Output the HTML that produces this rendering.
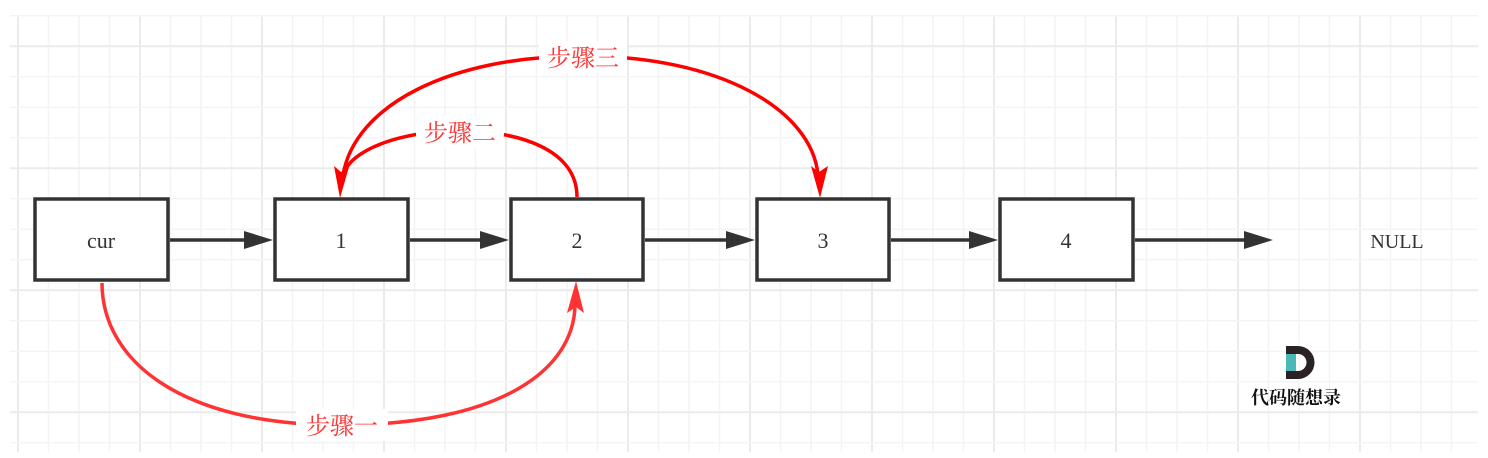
<!DOCTYPE html>
<html><head><meta charset="utf-8"><style>
html,body{margin:0;padding:0;background:#fff;width:1488px;height:458px;overflow:hidden}
svg{display:block}
</style></head><body>
<svg width="1488" height="458" viewBox="0 0 1488 458" xmlns="http://www.w3.org/2000/svg">
<g id="grid"></g>
<g font-family="Liberation Serif, serif" font-size="22" fill="#333" text-anchor="middle">
<rect x="35" y="199" width="133" height="81" fill="#fff" stroke="#333" stroke-width="3.5"/>
<text x="101" y="248">cur</text>
<rect x="275" y="199" width="133" height="81" fill="#fff" stroke="#333" stroke-width="3.5"/>
<text x="341" y="248">1</text>
<rect x="511" y="199" width="132" height="81" fill="#fff" stroke="#333" stroke-width="3.5"/>
<text x="577" y="248">2</text>
<rect x="757" y="199" width="132" height="81" fill="#fff" stroke="#333" stroke-width="3.5"/>
<text x="823" y="248">3</text>
<rect x="1000" y="199" width="133" height="81" fill="#fff" stroke="#333" stroke-width="3.5"/>
<text x="1066" y="248">4</text>
<text x="1397" y="248" font-size="20">NULL</text>
</g>
<g stroke="#333" stroke-width="3.5" fill="#333">
<line x1="170" y1="240" x2="250" y2="240"/>
<path d="M244,231 L273,240 L244,249 Z" stroke="none"/>
<line x1="410" y1="240" x2="486" y2="240"/>
<path d="M480,231 L509,240 L480,249 Z" stroke="none"/>
<line x1="645" y1="240" x2="732" y2="240"/>
<path d="M726,231 L755,240 L726,249 Z" stroke="none"/>
<line x1="891" y1="240" x2="975" y2="240"/>
<path d="M969,231 L998,240 L969,249 Z" stroke="none"/>
<line x1="1135" y1="240" x2="1250" y2="240"/>
<path d="M1244,231 L1273,240 L1244,249 Z" stroke="none"/>
</g>
<g fill="none" stroke-width="3.5">
<path d="M102,283 C102,360 180,425 340,425 C500,425 574,370 575,305" stroke="#ff3333"/>
<path d="M576,281 L584,313 L576,307 L567,313 Z" fill="#ff3333" stroke="none"/>
<path d="M577,197 C577,150 520,131 460,131 C400,131 350,150 343,175" stroke="#f00"/>
<path d="M343,175 C355,105 450,56 583,56 C720,56 812,110 818,175" stroke="#f00"/>
<path d="M340,198 L334,166 L341,172 L349,167 Z" fill="#f00" stroke="none"/>
<path d="M820,198 L811,166 L819,172 L828,166 Z" fill="#f00" stroke="none"/>
</g>
<g font-family="Noto Serif CJK SC, serif" font-size="24" fill="#ff3333" text-anchor="middle">
<rect x="296" y="409" width="92" height="32" fill="#fff"/>
<text x="342" y="434">步骤一</text>
<rect x="416" y="116" width="88" height="32" fill="#fff"/>
<text x="460" y="141">步骤二</text>
<rect x="539" y="41" width="88" height="32" fill="#fff"/>
<text x="583" y="66">步骤三</text>
</g>
<g>
<path d="M1286,346 h12 a16,16 0 0 1 0,33 h-12 Z M1296,354 v17 h2 a8,8 0 0 0 0,-17 Z" fill="#2a2224" fill-rule="evenodd"/>
<rect x="1286" y="354" width="10" height="17" fill="#4ab8b8"/>
<text x="1296" y="404" font-family="Noto Serif CJK SC, serif" font-weight="bold" font-size="18" text-anchor="middle" fill="#111">代码随想录</text>
</g>
</svg>
<script>
const g=document.getElementById('grid');
const ns='http://www.w3.org/2000/svg';
for(let i=0;i<=48;i++){const x=18+i*30.5;if(x>1480)break;const l=document.createElementNS(ns,'line');


l.setAttribute('x1',x);l.setAttribute('x2',x);l.setAttribute('y1',16);l.setAttribute('y2',452);l.setAttribute('stroke',i%4==0?'#ebebeb':'#f4f4f4');l.setAttribute('stroke-width',i%4==0?2:1.5);g.appendChild(l);}
for(let j=0;j<=15;j++){const y=15.7+j*30.5;if(y>452)break;const l=document.createElementNS(ns,'line');


l.setAttribute('x1',10);l.setAttribute('x2',1478);l.setAttribute('y1',y);l.setAttribute('y2',y);l.setAttribute('stroke',j%4==1?'#ebebeb':'#f4f4f4');l.setAttribute('stroke-width',j%4==1?2:1.5);g.appendChild(l);}
</script>
</body></html>
